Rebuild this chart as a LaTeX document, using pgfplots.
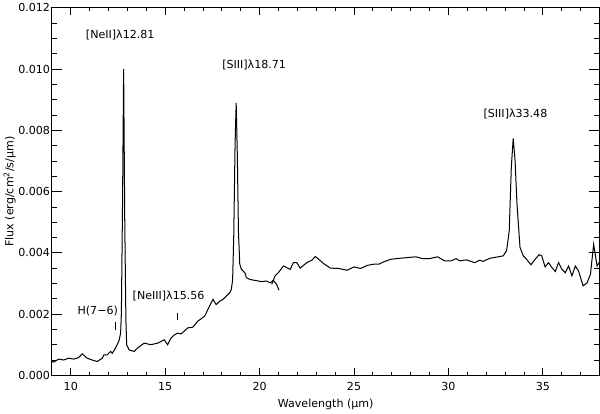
\documentclass[border=0pt]{standalone}
\usepackage{fontspec}
\setmainfont{DejaVu Sans}
\usepackage{pgfplots}
\pgfplotsset{compat=1.18}

\begin{document}
\fontsize{11}{13}\selectfont
\begin{tikzpicture}
\begin{axis}[
  scale only axis, width=544pt, height=365pt,
  xmin=9, xmax=38, ymin=0, ymax=0.012,
  clip=false,
  xtick={10,15,...,35}, ytick={0,0.002,...,0.012},
  scaled y ticks=false,
  tick align=inside, major tick length=0pt,
  axis line style={line width=0.8pt},
  yticklabel={\pgfmathprintnumber[fixed,fixed zerofill,precision=3,assume math mode=true]{\tick}},
  xticklabel={\pgfmathprintnumber[assume math mode=true]{\tick}},
  yticklabel style={xshift=2pt},
  xticklabel style={yshift=-3pt},
  xlabel={Wavelength (μm)},
  ylabel={Flux (erg/cm\textsuperscript{2}/s/μm)},
  xlabel style={yshift=-1pt},
  ylabel style={yshift=-5pt},
]
\addplot[black, line width=1pt] coordinates {
(9.00,0.00045) (9.09,0.00043) (9.36,0.00053) (9.62,0.00050) (9.89,0.00056)
(10.16,0.00053) (10.42,0.00058) (10.60,0.00070) (10.69,0.00066) (10.87,0.00056)
(11.13,0.00050) (11.40,0.00045) (11.67,0.00056) (11.76,0.00067) (11.93,0.00067)
(12.11,0.00078) (12.20,0.00072) (12.37,0.00089) (12.46,0.00100) (12.56,0.00114)
(12.64,0.00138) (12.68,0.0020) (12.74,0.0055) (12.80,0.0100) (12.86,0.0050)
(12.92,0.0018) (12.96,0.00100) (13.09,0.00083) (13.36,0.00078) (13.53,0.00089)
(13.89,0.00105) (14.24,0.00100) (14.60,0.00105) (14.95,0.00116) (15.13,0.00100)
(15.31,0.00122) (15.49,0.00132) (15.66,0.00138) (15.84,0.00135) (16.20,0.00155)
(16.46,0.00157) (16.73,0.00177) (17.09,0.00193) (17.35,0.00226) (17.53,0.00248)
(17.70,0.00231) (17.89,0.00242) (18.06,0.00248) (18.24,0.00259) (18.42,0.00270)
(18.50,0.00280) (18.57,0.0031) (18.63,0.0045) (18.70,0.0075) (18.76,0.0089)
(18.82,0.0072) (18.88,0.0047) (18.95,0.00363) (19.04,0.00346) (19.22,0.00335)
(19.30,0.00319) (19.49,0.00313) (19.75,0.00310) (20.10,0.00306) (20.37,0.00308)
(20.55,0.00302) (20.73,0.00310) (20.90,0.00297) (21.03,0.00278)
};
\addplot[black, line width=1pt] coordinates {
(20.64,0.00297) (20.82,0.00325) (20.99,0.00335) (21.26,0.00357) (21.62,0.00346)
(21.79,0.00368) (21.97,0.00368) (22.15,0.00350) (22.50,0.00368) (22.77,0.00376)
(22.95,0.00388) (23.13,0.00379) (23.39,0.00365) (23.75,0.00350) (24.19,0.00349)
(24.63,0.00343) (24.99,0.00354) (25.35,0.00349) (25.70,0.00359) (26.06,0.00363)
(26.32,0.00363) (26.59,0.00371) (26.95,0.00379) (27.39,0.00382) (27.92,0.00385)
(28.28,0.00387) (28.63,0.00381) (28.99,0.00381) (29.43,0.00387) (29.79,0.00374)
(30.15,0.00374) (30.41,0.00381) (30.59,0.00374) (30.95,0.00377) (31.39,0.00368)
(31.66,0.00376) (31.83,0.00372) (32.19,0.00382) (32.72,0.00388) (32.90,0.00390)
(33.08,0.00407) (33.22,0.00472) (33.33,0.0068) (33.43,0.00774) (33.53,0.0070)
(33.63,0.0056) (33.79,0.00418) (33.96,0.00390) (34.14,0.00379) (34.37,0.00361)
(34.59,0.00379) (34.80,0.00394) (34.94,0.00390) (35.12,0.00354) (35.30,0.00368)
(35.48,0.00352) (35.66,0.00339) (35.83,0.00368) (36.01,0.00346) (36.19,0.00335)
(36.36,0.00357) (36.54,0.00325) (36.72,0.00357) (36.89,0.00341) (37.13,0.00292)
(37.34,0.00302) (37.52,0.00330) (37.69,0.00428) (37.87,0.00357) (38.00,0.00370)
};
% IDL-style ticks, inside on all four sides
\pgfplotsinvokeforeach{10,15,20,25,30,35}{
  \draw[line width=0.8pt] (axis cs:#1,0) -- (axis cs:#1,0.00023);
  \draw[line width=0.8pt] (axis cs:#1,0.012) -- (axis cs:#1,0.01177);
}
\pgfplotsinvokeforeach{9,11,12,13,14,16,17,18,19,21,22,23,24,26,27,28,29,31,32,33,34,36,37}{
  \draw[line width=0.8pt] (axis cs:#1,0) -- (axis cs:#1,0.000115);
  \draw[line width=0.8pt] (axis cs:#1,0.012) -- (axis cs:#1,0.011885);
}
\pgfplotsinvokeforeach{0.002,0.004,0.006,0.008,0.010}{
  \draw[line width=0.8pt] (axis cs:9,#1) -- (axis cs:9.53,#1);
  \draw[line width=0.8pt] (axis cs:38,#1) -- (axis cs:37.47,#1);
}
\pgfplotsinvokeforeach{0.0005,0.001,0.0015,0.0025,0.003,0.0035,0.0045,0.005,0.0055,0.0065,0.007,0.0075,0.0085,0.009,0.0095,0.0105,0.011,0.0115}{
  \draw[line width=0.8pt] (axis cs:9,#1) -- (axis cs:9.27,#1);
  \draw[line width=0.8pt] (axis cs:38,#1) -- (axis cs:37.73,#1);
}
\node at (axis cs:12.62,0.01111) {[NeII]λ12.81};
\node at (axis cs:19.71,0.01013) {[SIII]λ18.71};
\node at (axis cs:33.55,0.00853) {[SIII]λ33.48};
\node at (axis cs:15.18,0.00260) {[NeIII]λ15.56};
\node at (axis cs:11.43,0.00210) {H(7−6)};
\draw[line width=0.8pt] (axis cs:12.37,0.00148) -- (axis cs:12.37,0.00174);
\draw[line width=0.8pt] (axis cs:15.66,0.00180) -- (axis cs:15.66,0.00205);
\end{axis}
\end{tikzpicture}
\end{document}
